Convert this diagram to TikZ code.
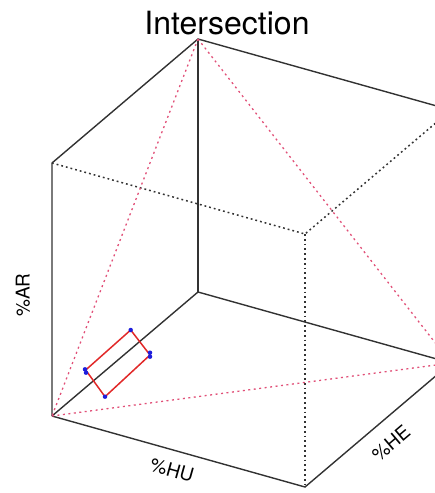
\documentclass[tikz,border=0pt]{standalone}
\usepackage{fontspec}
\setmainfont{TeX Gyre Heros}
\usetikzlibrary{calc}
\definecolor{edgegray}{RGB}{50,50,50}
\definecolor{planered}{RGB}{225,80,120}
\definecolor{boxred}{RGB}{225,40,40}
\definecolor{dotblue}{RGB}{30,30,220}

\begin{document}
\begin{tikzpicture}[x=1pt, y=-1pt,
        edge/.style={draw=edgegray, line width=1.4pt},
        hidden/.style={draw=edgegray, line width=1.5pt, dash pattern=on 1.8pt off 3pt},
        plane/.style={draw=planered, line width=1.3pt, dash pattern=on 2pt off 3.5pt},
        boxline/.style={draw=boxred, line width=1.5pt, line join=round},
        corner/.style={circle, fill=dotblue, inner sep=0pt, minimum size=4.5pt},
        axislabel/.style={font=\fontsize{19}{19}\selectfont, inner sep=0pt}]
        \useasboundingbox (0,0) rectangle (435,493);
        \clip (0,0) rectangle (435,493);
        % cube corners
        \coordinate (o) at (52,416);
        \coordinate (a) at (305,487);
        \coordinate (b) at (451,363);
        \coordinate (c) at (198,292);
        \coordinate (ot) at (52,163);
        \coordinate (at) at (305,234);
        \coordinate (bt) at (451,110);
        \coordinate (ct) at (198,39);
        % visible edges
        \draw[edge] (o)--(a)--(b)--(c)--(o);
        \draw[edge] (o)--(ot)--(ct)--(bt)--(b);
        \draw[edge] (ct)--(c);
        % hidden edges
        \draw[hidden] (ot)--(at)--(bt);
        \draw[hidden] (at)--(a);
        % cutting plane
        \draw[plane] (ct)--(o);
        \draw[plane] (ct)--(b);
        \draw[plane] (o)--(b);
        % rectangle on the diagonal
        \coordinate (r1) at (130.7,330);
        \coordinate (r2) at (150,355);
        \coordinate (r3) at (105,396.7);
        \coordinate (r4) at (85.7,370);
        \draw[boxline] (r1)--(r2)--(r3)--(r4)--cycle;
        \node[corner] (d1) at (r1) {};
        \node[corner] (d2) at (150,352.7) {};
        \node[corner] (d2b) at (150,356.7) {};
        \node[corner] (d3) at (r3) {};
        \node[corner] (d4) at (85,369.3) {};
        \node[corner] (d4b) at (86,372.7) {};
        % labels
        \node[font=\fontsize{32}{32}\selectfont, inner sep=0pt] (title) at (227,23) {Intersection};
        \node[axislabel, rotate=90] (ar) at (23,295) {\%AR};
        \node[axislabel, rotate=-15.7] (hu) at (172,470) {\%HU};
        \node[axislabel, rotate=40.3] (he) at (391,443) {\%HE};
      \end{tikzpicture}
\end{document}
